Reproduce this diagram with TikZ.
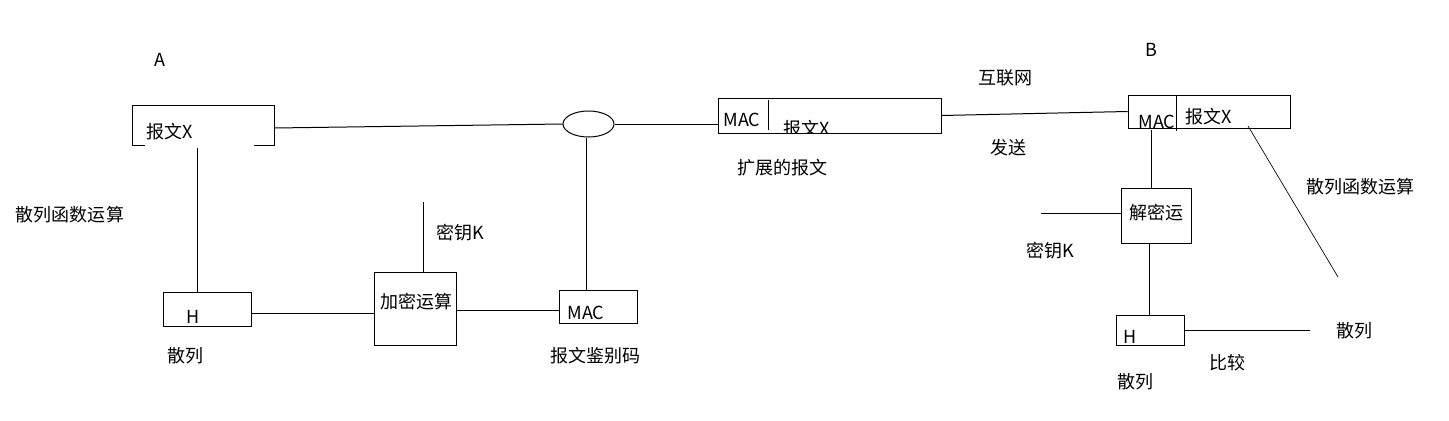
\documentclass[tikz,border=0pt]{standalone}
\usepackage{fontspec}
\setmainfont{Noto Sans CJK SC}
\usetikzlibrary{shapes.geometric,calc}
\begin{document}
\begin{tikzpicture}[x=0.75pt,y=-0.75pt,line width=0.75pt,
  box/.style={draw,inner sep=0pt},
  lbl/.style={inner sep=0pt,font=\fontsize{13.5}{16}\selectfont},
  thin line/.style={line width=0.5pt}]
\fill[white] (0,0) rectangle (1449,421);
\useasboundingbox (0,0) rectangle (1449,421);

% boxes
\node[inner sep=0pt,minimum width=141*0.75pt,minimum height=39*0.75pt] (msgA) at (203.5,125) {};
\draw ($(msgA.south west)+(12,0)$) -- (msgA.south west) -- (msgA.north west) -- (msgA.north east) -- (msgA.south east) -- ++(-21,0);
\node[box,minimum width=88*0.75pt,minimum height=34*0.75pt] (hA) at (207,309) {};
\node[box,minimum width=82*0.75pt,minimum height=73*0.75pt] (enc) at (415,308.5) {};
\node[box,minimum width=78*0.75pt,minimum height=33*0.75pt] (macA) at (598,306.5) {};
\node[draw,ellipse,inner sep=0pt,minimum width=51*0.75pt,minimum height=26*0.75pt] (ell) at (588.5,124) {};
\node[box,minimum width=223*0.75pt,minimum height=35*0.75pt] (ext) at (829.5,115.5) {};
\node[box,minimum width=162*0.75pt,minimum height=33*0.75pt] (boxB) at (1209,111.5) {};
\node[box,minimum width=70*0.75pt,minimum height=55*0.75pt] (dec) at (1156,215.5) {};
\node[box,minimum width=68*0.75pt,minimum height=30*0.75pt] (hB) at (1150,330) {};

% dividers
\coordinate (extdivT) at (768,100);
\coordinate (extdivB) at (768,130);
\draw (extdivT) -- (extdivB);
\coordinate (bdivT) at (1176,95);
\coordinate (bdivB) at (1176,131);
\draw (bdivT) -- (bdivB);

% free ends
\coordinate (msgAout) at (197,148);
\coordinate (keyA) at (423,202);
\coordinate (keyB) at (1041,213);
\coordinate (boxBout) at (1151,130);
\coordinate (diagS) at (1248,126);
\coordinate (diagE) at (1338,277);
\coordinate (cmpE) at (1310,330);
\coordinate (msgAr) at ($(msgA.east)+(0,3)$);
\coordinate (hAr) at ($(hA.east)+(0,4)$);
\coordinate (encr) at ($(enc.east)+(0,1.5)$);
\coordinate (ells) at ($(ell.south)+(-2,0)$);
\coordinate (decs) at ($(dec.south)+(-7,0)$);

% connectors
\draw (msgAr) -- (ell.west);
\draw (ell.east) -- (ell.east -| ext.west);
\draw (ext.east) -- (boxB.west);
\draw (msgAout) -- (msgAout |- hA.north);
\draw (hAr) -- (hAr -| enc.west);
\draw (keyA) -- (keyA |- enc.north);
\draw (encr) -- (encr -| macA.west);
\draw (ells) -- (ells |- macA.north);
\draw (boxBout) -- (boxBout |- dec.north);
\draw (keyB) -- (keyB -| dec.west);
\draw (decs) -- (decs |- hB.north);
\draw (hB.east) -- (cmpE);
\draw[thin line] (diagS) -- (diagE);

% texts
\node[lbl] (tA) at (160,60) {A};
\node[lbl] (tB) at (1151,50) {B};
\node[lbl] (tmsgA) at (170,132) {报文X};
\node[lbl] (thashfnA) at (70,215) {散列函数运算};
\node[lbl] (tHA) at (193,317) {H};
\node[lbl] (thashA) at (185,356) {散列};
\node[lbl] (tkeyA) at (460,233) {密钥K};
\node[lbl] (tenc) at (416,302) {加密运算};
\node[lbl] (tmacA) at (586,313) {MAC};
\node[lbl] (tmac) at (595,356) {报文鉴别码};
\node[lbl] (tmacext) at (742,120) {MAC};
\begin{scope}
\clip (ext.north west) rectangle (ext.south east);
\node[lbl] (tmsgext) at (807,129) {报文X};
\end{scope}
\node[lbl] (text) at (782,168) {扩展的报文};
\node[lbl] (tnet) at (1005,78) {互联网};
\node[lbl] (tsend) at (1008,148) {发送};
\begin{scope}
\clip (boxB.north west) rectangle (1174,128);
\node[lbl] (tmacB) at (1157,122) {MAC};
\end{scope}
\node[lbl] (tmsgB) at (1209,117) {报文X};
\node[lbl] (thashfnB) at (1360,187) {散列函数运算};
\node[lbl] (tdec) at (1156,213) {解密运};
\node[lbl] (tkeyB) at (1050,251) {密钥K};
\node[lbl] (tHB) at (1130,337) {H};
\node[lbl] (thashR) at (1354,331) {散列};
\node[lbl] (tcmp) at (1227,363) {比较};
\node[lbl] (thashB) at (1135,382) {散列};
\end{tikzpicture}
\end{document}
